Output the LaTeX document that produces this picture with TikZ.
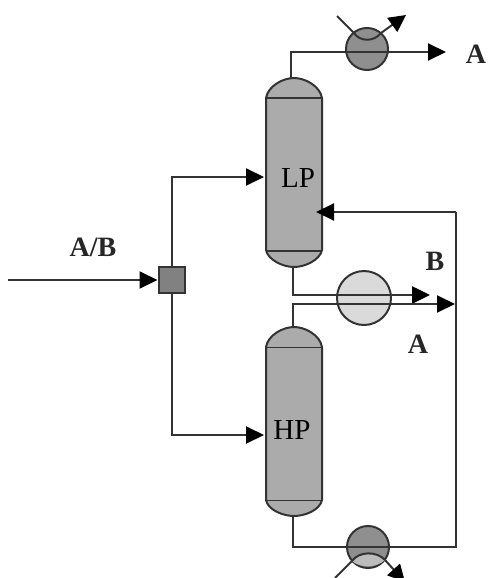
\documentclass[tikz,border=0pt]{standalone}
\usepackage{fontspec}
\setmainfont{Liberation Serif}
\usetikzlibrary{arrows.meta}
\definecolor{ln}{HTML}{333333}
\definecolor{colfill}{HTML}{ABABAB}
\definecolor{hxfill}{HTML}{8F8F8F}
\definecolor{midfill}{HTML}{DADADA}
\tikzset{
  x=1pt,y=-1pt,
  pipe/.style={draw=ln,line width=2pt,line join=miter},
  flow/.style={pipe,-{Triangle[length=18pt,width=17pt,color=black]}},
  tipflow/.style={pipe,-{Triangle[length=17pt,width=17pt,color=black]}},
  vessel/.style={draw=ln,line width=2pt,fill=colfill},
  hx/.style={circle,draw=ln,line width=2pt,fill=hxfill,minimum size=42pt,inner sep=0pt},
  midhx/.style={circle,draw=ln,line width=2pt,fill=midfill,minimum size=54pt,inner sep=0pt},
  mixer/.style={rectangle,draw=ln,line width=2pt,fill=hxfill!90!black,minimum size=26pt,inner sep=0pt},
  lab/.style={font=\fontsize{28}{28}\selectfont\bfseries,text=black!85,inner sep=0pt},
  collab/.style={font=\fontsize{29}{29}\selectfont,text=black,inner sep=0pt}
}
\begin{document}
\begin{tikzpicture}
\useasboundingbox (0,0) rectangle (488,578);
\clip (0,0) rectangle (488,578);
% named points
\coordinate (lptop) at (291,79);
\coordinate (lpbot) at (293,267);
\coordinate (lpin) at (264,177);
\coordinate (lpret) at (316,212);
\coordinate (hptop) at (293,327);
\coordinate (hpbot) at (293,516);
\coordinate (hpin) at (264,435);
\coordinate (endA) at (446,52);
\coordinate (endB) at (430,295);
\coordinate (endA2) at (455,304);
\coordinate (src) at (8,280);
% vessels
\path[vessel] (266,98) .. controls (268,86) and (283,78) .. (294,78) .. controls (305,78) and (320,86) .. (322,98)
  -- (322,250) .. controls (320,260) and (305,267) .. (294,267) .. controls (283,267) and (268,260) .. (266,250) -- cycle;
\draw[ln,line width=2.4pt] (266,98) -- (322,98);
\draw[ln,line width=1.4pt] (266,251) -- (322,251);
\path[vessel] (266,347) .. controls (268,335) and (283,327) .. (294,327) .. controls (305,327) and (320,335) .. (322,347)
  -- (322,500) .. controls (320,510) and (305,516) .. (294,516) .. controls (283,516) and (268,510) .. (266,500) -- cycle;
\draw[ln,line width=1pt] (266,347) -- (322,347);
\draw[ln,line width=1pt] (266,500) -- (322,500);
% equipment
\node[mixer] (mix) at (171.5,280) {};
\node[hx] (cond) at (367,49) {};
\node[midhx] (mid) at (364,298) {};
\node[hx] (reb) at (368,547) {};
% connectors
\draw[flow] (src) -- (mix.west);
\draw[flow] (mix.north) |- (lpin);
\draw[flow] (mix.south) |- (hpin);
\draw[flow] (lptop) |- (endA);
\draw[flow,line width=2.6pt] (lpbot) |- (endB);
\draw[flow] (hptop) |- (endA2);
\draw[pipe] (hpbot) |- (456,547) -- (456,212);
\draw[flow] (456,212) -- (lpret);
% utility lines through the exchangers
\draw[draw=ln,line width=2pt] (337,16) -- (354,33) .. controls (360,42) and (374,42) .. (381,33);
\draw[tipflow] (381,33) -- (406,15);
\fill[colfill!80!white] (352,561) .. controls (359,551) and (377,551) .. (385,560) .. controls (377,568) and (359,568) .. (352,561);
\draw[draw=ln,line width=2pt] (335,578) -- (352,561) .. controls (359,551) and (377,551) .. (385,560);
\draw[tipflow] (385,560) -- (405,582);
% labels
\node[lab] (ab) at (93,247) {A/B};
\node[lab] (b) at (435,261) {B};
\node[lab] (a2) at (418,344) {A};
\node[lab] (a1) at (476,54) {A};
\node[collab] (lp) at (298,178) {LP};
\node[collab] (hp) at (292,430) {HP};
\end{tikzpicture}
\end{document}
